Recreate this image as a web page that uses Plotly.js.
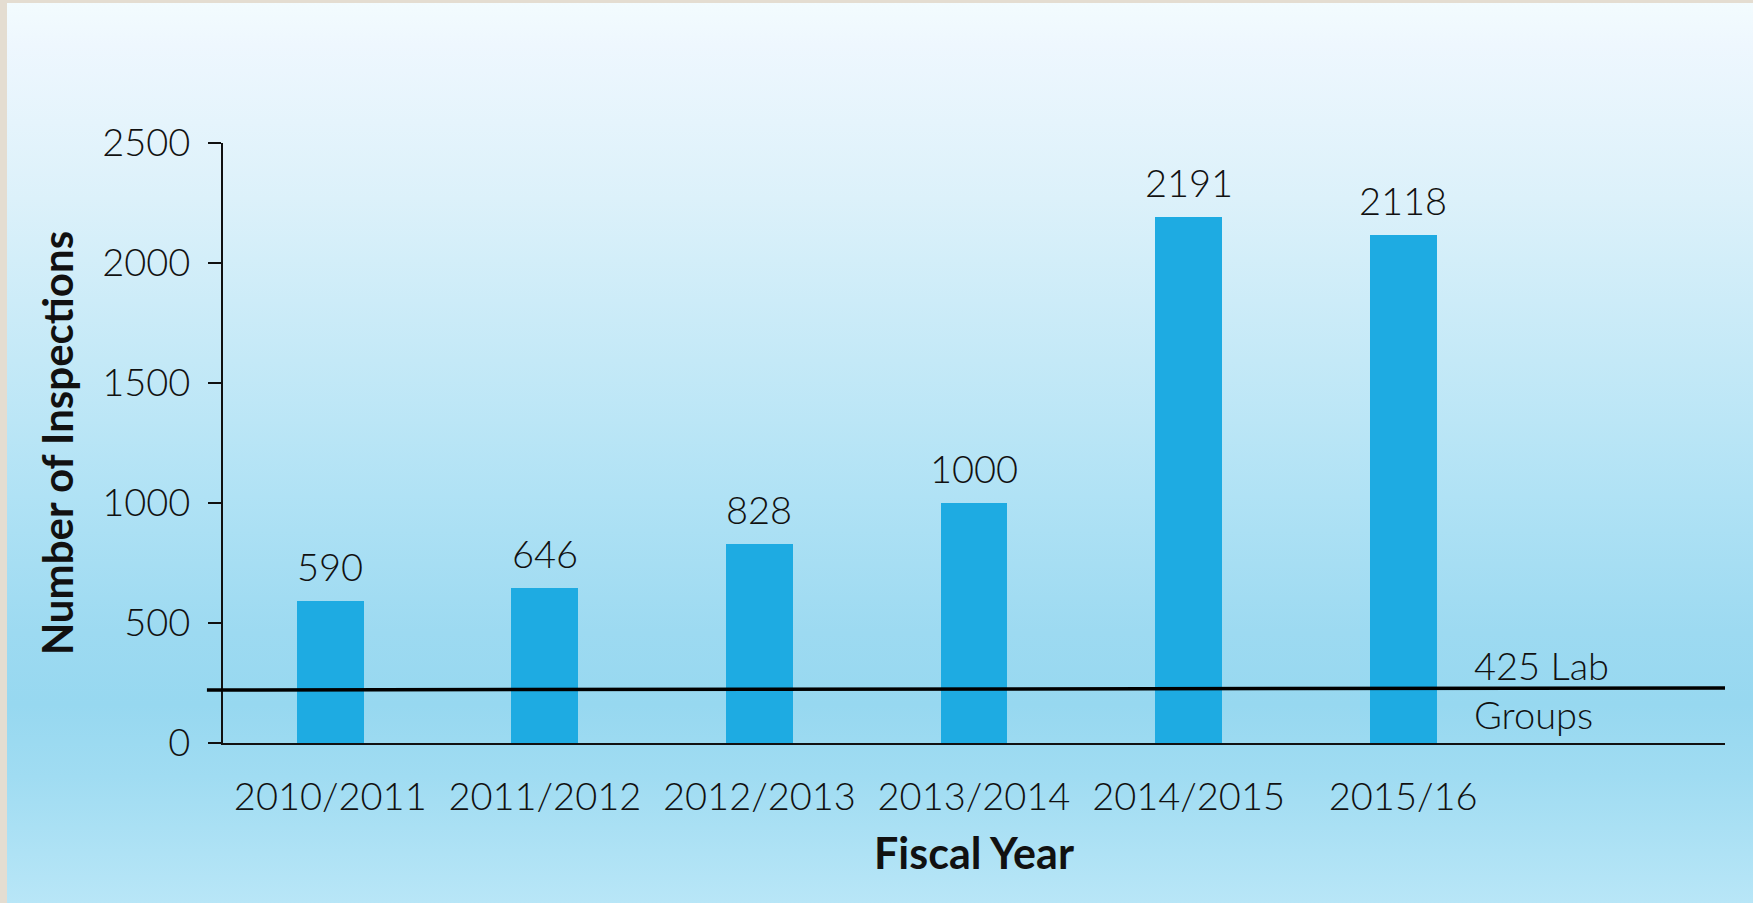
<!DOCTYPE html>
<html>
<head>
<meta charset="utf-8">
<script src="https://cdn.plot.ly/plotly-3.0.1.min.js"></script>
<style>
  html, body { margin: 0; padding: 0; }
  #chart {
    width: 1753px; height: 903px;
    background: linear-gradient(to bottom, #f3fcfe 0%, #eef7fe 5%, #dcf1fa 22%, #c4e9f7 40%, #b0e2f5 55%, #9ddaf1 70%, #97d8f0 78%, #a0dcf2 86%, #b8e6f7 100%);
    box-shadow: inset 7px 3px 0 #e4ddd1;
  }
</style>
</head>
<body>
<div id="chart"></div>
<script>
const categories = ["2010/2011", "2011/2012", "2012/2013", "2013/2014", "2014/2015", "2015/16"];
const inspections = [590, 646, 828, 1000, 2191, 2118];
const yTickValues = [0, 500, 1000, 1500, 2000, 2500];
const labLineY = [221, 229];
const labLabel = "425 Lab<br>Groups";
const labLabelX = 5.32;

const textFont = "Lato, 'Open Sans', sans-serif";

const bars = {
  type: "bar",
  x: categories,
  y: inspections,
  width: 0.312,
  marker: { color: "#1eabe2", line: { width: 0 } },
  hoverinfo: "x+y",
  showlegend: false
};

const valueAnnotations = categories.map((c, i) => ({
  x: c, y: inspections[i], xref: "x", yref: "y",
  text: String(inspections[i]),
  showarrow: false, yanchor: "bottom", yshift: 10,
  font: { family: textFont, size: 38, color: "#111", weight: 300 }
}));

const layout = {
  width: 1753, height: 903,
  margin: { l: 223, r: 28, t: 143, b: 160 },
  paper_bgcolor: "rgba(0,0,0,0)",
  plot_bgcolor: "rgba(0,0,0,0)",
  font: { family: textFont, color: "#111" },
  bargap: 0,
  xaxis: {
    type: "category",
    categoryarray: categories,
    range: [-0.5, 6.5],
    showline: true, linecolor: "#111", linewidth: 2,
    ticks: "", showgrid: false, zeroline: false,
    tickfont: { family: textFont, size: 38, color: "#111", weight: 300 },
    ticklabelstandoff: 19,
    title: { text: "<b>Fiscal Year</b>", font: { family: textFont, size: 43, color: "#111" }, standoff: 22 }
  },
  yaxis: {
    range: [0, 2500],
    tickvals: yTickValues,
    ticktext: yTickValues.map(String),
    showline: true, linecolor: "#111", linewidth: 2,
    ticks: "outside", ticklen: 13, tickwidth: 2, tickcolor: "#111",
    showgrid: false, zeroline: false,
    tickfont: { family: textFont, size: 38, color: "#111", weight: 300 },
    ticklabelstandoff: 10,
    title: { text: "<b>Number of Inspections</b>", font: { family: textFont, size: 42, color: "#111" }, standoff: 16 }
  },
  shapes: [{
    type: "line", xref: "paper", yref: "y",
    x0: -0.0107, x1: 1, y0: labLineY[0], y1: labLineY[1],
    line: { color: "#000", width: 3.5 }
  }],
  annotations: valueAnnotations.concat([{
    x: labLabelX, y: (labLineY[0] + labLineY[1]) / 2, xref: "x", yref: "y",
    text: labLabel, showarrow: false, xanchor: "left", yanchor: "middle", align: "left",
    font: { family: textFont, size: 38, color: "#111", weight: 300 }
  }])
};

Plotly.newPlot("chart", [bars], layout, { displayModeBar: false, staticPlot: true });
</script>
</body>
</html>
